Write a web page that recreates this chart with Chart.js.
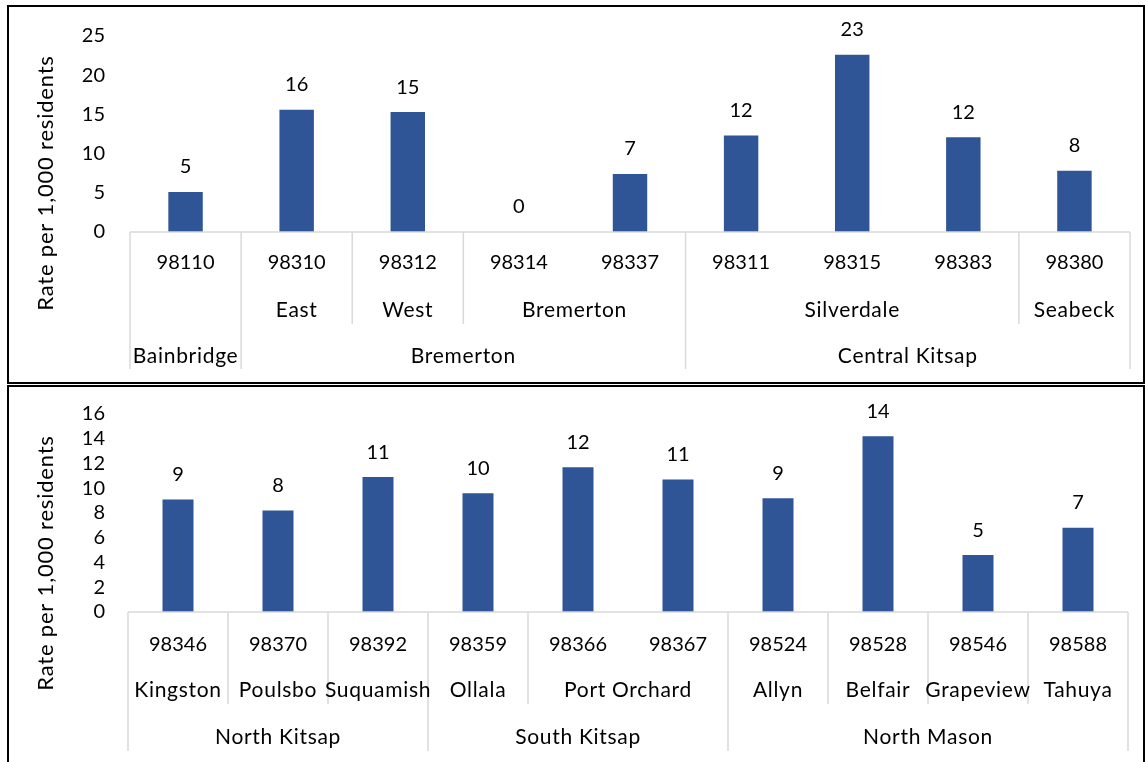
<!DOCTYPE html>
<html>
<head>
<meta charset="utf-8">
<script src="https://cdn.jsdelivr.net/npm/chart.js@4.4.0/dist/chart.umd.min.js"></script>
<style>
  body { margin: 0; background: #fff; }
  .box { position: absolute; left: 7px; width: 1134px; border: 2px solid #000; }
  #box1 { top: 5px; height: 375px; }
  #box2 { top: 385px; height: 375px; }
  .wrap { position: relative; width: 1134px; height: 375px; }
</style>
</head>
<body>
<div class="box" id="box1"><div class="wrap"><canvas id="chart1"></canvas></div></div>
<div class="box" id="box2"><div class="wrap"><canvas id="chart2"></canvas></div></div>
<script>
const zips1 = ['98110', '98310', '98312', '98314', '98337', '98311', '98315', '98383', '98380'];
const rates1 = [5.1, 15.6, 15.3, 0, 7.4, 12.3, 22.6, 12.1, 7.8];
const subs1 = ['', 'East', 'West', 'Bremerton', 'Bremerton', 'Silverdale', 'Silverdale', 'Silverdale', 'Seabeck'];
const areas1 = ['Bainbridge', 'Bremerton', 'Bremerton', 'Bremerton', 'Bremerton',
  'Central Kitsap', 'Central Kitsap', 'Central Kitsap', 'Central Kitsap'];
const yTicks1 = { max: 25, step: 5 };

const zips2 = ['98346', '98370', '98392', '98359', '98366', '98367', '98524', '98528', '98546', '98588'];
const rates2 = [9.1, 8.2, 10.9, 9.6, 11.7, 10.7, 9.2, 14.2, 4.6, 6.8];
const subs2 = ['Kingston', 'Poulsbo', 'Suquamish', 'Ollala', 'Port Orchard', 'Port Orchard',
  'Allyn', 'Belfair', 'Grapeview', 'Tahuya'];
const areas2 = ['North Kitsap', 'North Kitsap', 'North Kitsap', 'South Kitsap', 'South Kitsap', 'South Kitsap',
  'North Mason', 'North Mason', 'North Mason', 'North Mason'];
const yTicks2 = { max: 16, step: 2 };

const yTitle = 'Rate per 1,000 residents';

const FONT = 'Lato';
const TEXT = '#000';
const BAR = '#2F5597';
const GRID = '#D9D9D9';

// value labels above bars, the y title and the Excel style multi-level category table
const tablePlugin = {
  id: 'tablePlugin',
  afterDatasetsDraw(chart, args, opts) {
    const ctx = chart.ctx;
    const x = chart.scales.x;
    const base = chart.chartArea.bottom;
    const meta = chart.getDatasetMeta(0);
    const values = chart.data.datasets[0].data;

    ctx.save();
    ctx.fillStyle = TEXT;
    ctx.textAlign = 'center';
    ctx.textBaseline = 'middle';

    // y axis title
    ctx.save();
    ctx.translate(37, 176);
    ctx.rotate(-Math.PI / 2);
    ctx.font = '22px ' + FONT;
    ctx.letterSpacing = '0.8px';
    ctx.fillText(yTitle, 0, 0);
    ctx.restore();

    ctx.font = '20px ' + FONT;
    meta.data.forEach((bar, i) => {
      ctx.fillText(String(Math.round(values[i])), bar.x, bar.y - 25);
    });

    const n = opts.zips.length;
    const px = i => x.getPixelForValue(i);
    const dy = opts.dy;

    // baseline
    ctx.strokeStyle = GRID;
    ctx.lineWidth = 1.5;
    ctx.beginPath();
    ctx.moveTo(x.left, base);
    ctx.lineTo(x.right, base);
    ctx.stroke();

    // vertical separators
    const vline = (xx, depth) => {
      ctx.beginPath();
      ctx.moveTo(xx, base);
      ctx.lineTo(xx, base + depth);
      ctx.stroke();
    };
    vline(x.left, dy[3]);
    vline(x.right, dy[3]);
    for (let i = 1; i < n; i++) {
      const xx = (px(i - 1) + px(i)) / 2;
      if (opts.areas[i] !== opts.areas[i - 1]) vline(xx, dy[3]);
      else if (opts.subs[i] !== opts.subs[i - 1]) vline(xx, 92);
    }

    // row 1: zip codes
    opts.zips.forEach((z, i) => ctx.fillText(z, px(i), base + dy[0]));

    // rows 2 and 3: merged group labels
    ctx.font = '21px ' + FONT;
    ctx.letterSpacing = '0.7px';
    const groups = (labels, y) => {
      let start = 0;
      for (let i = 1; i <= n; i++) {
        if (i === n || labels[i] !== labels[start]) {
          if (labels[start]) ctx.fillText(labels[start], (px(start) + px(i - 1)) / 2, y);
          start = i;
        }
      }
    };
    groups(opts.subs, base + dy[1]);
    groups(opts.areas, base + dy[2]);
    ctx.restore();
  }
};

function initializeChart(id, zips, rates, subs, areas, yTicks, pad, axisWidth, tickPad, dy) {
  new Chart(document.getElementById(id), {
    type: 'bar',
    data: {
      labels: zips,
      datasets: [{
        data: rates,
        backgroundColor: BAR,
        borderWidth: 0,
        barPercentage: 0.31,
        categoryPercentage: 1,
      }],
    },
    options: {
      responsive: true,
      maintainAspectRatio: false,
      animation: false,
      layout: { padding: pad },
      plugins: {
        legend: { display: false },
        tooltip: { enabled: false },
        tablePlugin: { zips: zips, subs: subs, areas: areas, dy: dy },
      },
      scales: {
        x: { display: false },
        y: {
          min: 0,
          max: yTicks.max,
          afterFit: function (scale) { scale.width = axisWidth; },
          grid: { display: false },
          border: { display: false },
          ticks: {
            stepSize: yTicks.step,
            autoSkip: false,
            padding: tickPad,
            color: TEXT,
            font: { family: FONT, size: 20 },
          },
        },
      },
    },
    plugins: [tablePlugin],
  });
}

initializeChart('chart1', zips1, rates1, subs1, areas1, yTicks1,
  { left: 20, right: 13, top: 14, bottom: 150 }, 101, 17, [31, 78, 124, 137]);
initializeChart('chart2', zips2, rates2, subs2, areas2, yTicks2,
  { left: 20, right: 15, top: 21, bottom: 150 }, 99, 15, [33, 78, 125, 139]);
</script>
</body>
</html>
